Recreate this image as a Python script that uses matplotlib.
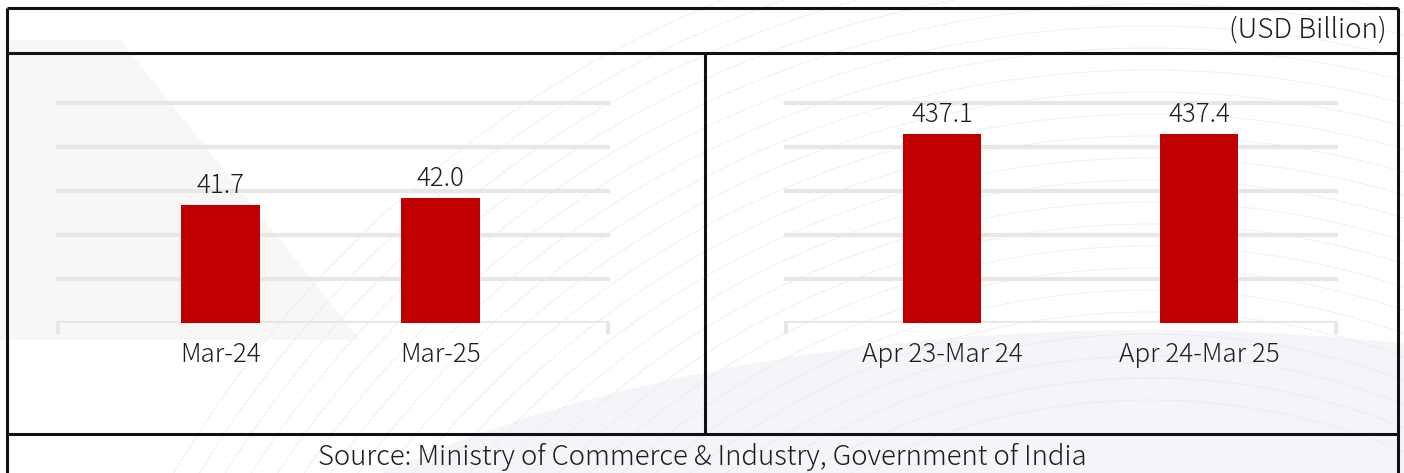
import matplotlib.pyplot as plt
import numpy as np
from matplotlib.lines import Line2D
from matplotlib.patches import Arc, Ellipse, Polygon

plt.rcParams['font.family'] = ['Noto Sans CJK JP', 'DejaVu Sans']
plt.rcParams['font.weight'] = 'light'

# data
left_labels = ["Mar-24", "Mar-25"]
left_values = [41.7, 42.0]
right_labels = ["Apr 23-Mar 24", "Apr 24-Mar 25"]
right_values = [437.1, 437.4]
unit_text = "(USD Billion)"
source_text = "Source: Ministry of Commerce & Industry, Government of India"

bar_color = "#c00000"
grid_color = "#e9e6e3"
text_color = "#1e1e1e"
W, H = 1404, 473

fig = plt.figure(figsize=(W / 100, H / 100), dpi=100)

# background layer in pixel coords (decoration + frame)
bg = fig.add_axes([0, 0, 1, 1], zorder=0)
bg.set_xlim(0, W)
bg.set_ylim(H, 0)
bg.axis("off")
bg.add_patch(Ellipse((1150, 780), 2100, 900, facecolor="#f4f5f8", edgecolor="none"))
bg.add_patch(Polygon([(0, 40), (120, 40), (360, 340), (0, 340)], facecolor="#f7f7f8", edgecolor="none"))
for r in np.arange(650, 1150, 22):
    bg.add_patch(Arc((1150, 1050), 2 * r, 2 * r, theta1=180, theta2=300, color="#e6e6e6", lw=0.7, alpha=0.6))
for r in np.arange(300, 700, 30):
    bg.add_patch(Arc((-150, 900), 2 * r * 1.6, 2 * r, theta1=0, theta2=90, color="#e8e8e8", lw=0.7, alpha=0.5))

frame = dict(color="#111111", lw=2.2, solid_capstyle="butt")
bg.add_line(Line2D([7, 1398], [8, 8], **frame))
bg.add_line(Line2D([7, 1398], [53, 53], **frame))
bg.add_line(Line2D([7, 1398], [434, 434], **frame))
bg.add_line(Line2D([7, 7], [8, H], **frame))
bg.add_line(Line2D([1398, 1398], [8, H], **frame))
bg.add_line(Line2D([705, 705], [53, 434], **frame))

bg.text(1387, 30, unit_text, ha="right", va="center", fontsize=20, color=text_color)
bg.text(702, 457, source_text, ha="center", va="center", fontsize=19.8, color=text_color)


def panel(x0, labels, values, ylim, xlim, width):
    # axes spans gridline x-range, from baseline (y=323) to top gridline (y=103)
    ax = fig.add_axes([x0 / W, (H - 323) / H, 550 / W, 220 / H], zorder=2)
    ax.patch.set_alpha(0)
    ax.set_xlim(*xlim)
    ax.set_ylim(*ylim)
    grid = np.linspace(ylim[0], ylim[1], 6)
    for g in grid[1:]:
        ax.axhline(g, color=grid_color, lw=3, zorder=1, clip_on=False)
    ax.axhline(ylim[0], color=grid_color, lw=3, zorder=1)
    for s in ax.spines.values():
        s.set_visible(False)
    ax.plot([xlim[0], xlim[0]], [ylim[0], ylim[0] - (ylim[1] - ylim[0]) * 0.04],
            color=grid_color, lw=3, clip_on=False)
    ax.plot([xlim[1], xlim[1]], [ylim[0], ylim[0] - (ylim[1] - ylim[0]) * 0.04],
            color=grid_color, lw=3, clip_on=False)
    x = np.arange(len(values))
    ax.bar(x, values, width=width, color=bar_color, zorder=3)
    for xi, v in zip(x, values):
        ax.annotate(f"{v:.1f}", (xi, v), xytext=(0, 4), textcoords="offset points",
                    ha="center", va="bottom", fontsize=18.6, color=text_color)
    ax.set_yticks([])
    ax.set_xticks(x)
    ax.set_xticklabels(labels, fontsize=18.8, color=text_color)
    ax.tick_params(axis="x", length=0, pad=13)
    return ax


panel(58, left_labels, left_values, (36.64, 46.07), (-0.736, 1.758), 0.358)
panel(786, right_labels, right_values, (0, 508.8), (-0.606, 1.531), 0.303)

fig.savefig("out.png", dpi=100)
